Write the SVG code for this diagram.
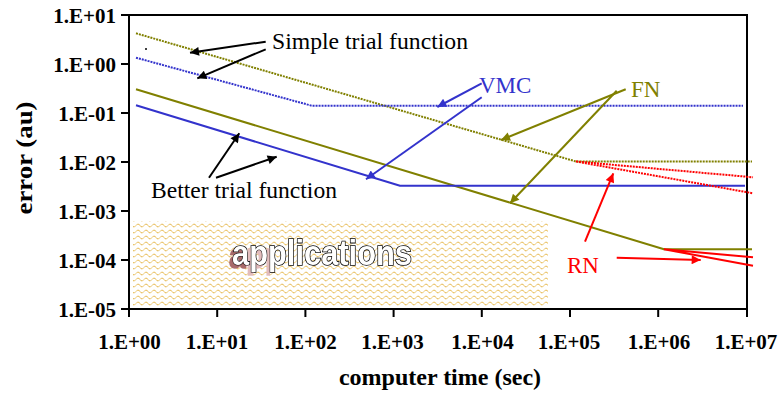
<svg xmlns="http://www.w3.org/2000/svg" width="782" height="395" viewBox="0 0 782 395">
  <style>
    .serif { font-family: "Liberation Serif", "Times New Roman", serif; }
    .tick { font-family: "Liberation Serif", "Times New Roman", serif; font-weight: bold; font-size: 21px; }
    .ylab { text-anchor: end; }
    .xlab { text-anchor: middle; }
    .frame { fill: none; stroke: #000; stroke-width: 2; }
    .data { fill: none; stroke-width: 2; stroke-linejoin: round; }
    .dotted { stroke-dasharray: 2 1; }
    .olive { stroke: #808000; }
    .blue { stroke: #3333cc; }
    .red { stroke: #ff0000; }
    .arrow { fill: none; stroke-width: 2; }
  </style>
  <defs>
    <marker id="ahBlack" viewBox="0 0 10 10" refX="10" refY="5" markerWidth="12" markerHeight="9" markerUnits="userSpaceOnUse" orient="auto">
      <path d="M0,0 L10,5 L0,10 z" fill="#000"/>
    </marker>
    <marker id="ahBlue" viewBox="0 0 10 10" refX="10" refY="5" markerWidth="12" markerHeight="9" markerUnits="userSpaceOnUse" orient="auto">
      <path d="M0,0 L10,5 L0,10 z" fill="#3333cc"/>
    </marker>
    <marker id="ahOlive" viewBox="0 0 10 10" refX="10" refY="5" markerWidth="12" markerHeight="9" markerUnits="userSpaceOnUse" orient="auto">
      <path d="M0,0 L10,5 L0,10 z" fill="#808000"/>
    </marker>
    <marker id="ahRed" viewBox="0 0 10 10" refX="10" refY="5" markerWidth="12" markerHeight="9" markerUnits="userSpaceOnUse" orient="auto">
      <path d="M0,0 L10,5 L0,10 z" fill="#ff0000"/>
    </marker>
    <pattern id="wave" width="8" height="6" patternUnits="userSpaceOnUse">
      <rect width="8" height="6" fill="#fff"/>
      <path d="M0,3.5 Q2,0.8 4,3.5 T8,3.5" fill="none" stroke="#e2aa28" stroke-width="1" stroke-dasharray="2 0.6"/>
    </pattern>
    <!-- soft brownish shadow, only behind the first letters -->
    <filter id="appShadow" filterUnits="userSpaceOnUse" primitiveUnits="userSpaceOnUse" x="200" y="225" width="240" height="55">
      <feFlood flood-color="#a86a6a" x="222" y="225" width="24" height="55" result="f1"/>
      <feFlood flood-color="#e2bcbc" x="246" y="225" width="24" height="55" result="f2"/>
      <feMerge result="tint">
        <feMergeNode in="f1"/>
        <feMergeNode in="f2"/>
      </feMerge>
      <feOffset in="SourceAlpha" dx="-3" dy="3" result="off"/>
      <feComposite in="tint" in2="off" operator="in" result="shadow"/>
      <feMerge>
        <feMergeNode in="shadow"/>
        <feMergeNode in="SourceGraphic"/>
      </feMerge>
    </filter>
  </defs>

  <rect width="782" height="395" fill="#fff"/>

  <!-- applications band -->
  <g id="applications">
    <rect x="133" y="221" width="415" height="86" fill="url(#wave)"/>
    <text x="232" y="265" font-family="'Liberation Sans', Arial, sans-serif" font-weight="bold" font-size="35" textLength="180" lengthAdjust="spacingAndGlyphs" fill="#fff" stroke="#000" stroke-width="1.6" paint-order="stroke" filter="url(#appShadow)">applications</text>
  </g>

  <!-- plot frame and ticks -->
  <g id="axes">
    <rect class="frame" x="129" y="15" width="618" height="294"/>
    <path class="frame" d="M121,15 H129 M121,64 H129 M121,113 H129 M121,162 H129 M121,211 H129 M121,260 H129 M121,309 H129
      M129,309 V317 M217.2,309 V317 M305.4,309 V317 M393.6,309 V317 M481.8,309 V317 M570,309 V317 M658.2,309 V317 M747,309 V317"/>
    <g class="tick ylab">
      <text x="116" y="23">1.E+01</text>
      <text x="116" y="72">1.E+00</text>
      <text x="116" y="121">1.E-01</text>
      <text x="116" y="170">1.E-02</text>
      <text x="116" y="219">1.E-03</text>
      <text x="116" y="268">1.E-04</text>
      <text x="116" y="317">1.E-05</text>
    </g>
    <g class="tick xlab">
      <text x="129.5" y="349">1.E+00</text>
      <text x="217" y="349">1.E+01</text>
      <text x="305.5" y="349">1.E+02</text>
      <text x="392.5" y="349">1.E+03</text>
      <text x="482.5" y="349">1.E+04</text>
      <text x="569" y="349">1.E+05</text>
      <text x="659" y="349">1.E+06</text>
      <text x="746" y="349">1.E+07</text>
    </g>
    <text x="440" y="385" text-anchor="middle" font-family="'Liberation Serif', 'Times New Roman', serif" font-weight="bold" font-size="24">computer time (sec)</text>
    <text transform="translate(32,158) rotate(-90)" text-anchor="middle" font-family="'Liberation Serif', 'Times New Roman', serif" font-weight="bold" font-size="23" textLength="113" lengthAdjust="spacingAndGlyphs">error (au)</text>
  </g>

  <!-- data curves -->
  <g id="curves">
    <polyline id="fn-simple" class="data olive dotted" points="136,33.3 576,161.5 752,161.5"/>
    <polyline id="vmc-simple" class="data blue dotted" points="136,57.7 311.7,105.7 743,105.7"/>
    <polyline id="fn-better" class="data olive" points="136,89.3 664,249.3 752,249.3"/>
    <polyline id="vmc-better" class="data blue" points="136,105.3 400,185.7 745,185.7"/>
    <path id="rn-simple" class="data red dotted" d="M576,161.5 L753,177.3 M576,161.5 L753,193.3"/>
    <path id="rn-better" class="data red" d="M664,249.3 L753,257.3 M664,249.3 L753,265.7"/>
    <circle cx="146" cy="49" r="1" fill="#000"/>
  </g>

  <!-- labels -->
  <g id="label-simple">
    <text x="272" y="49" font-family="'Liberation Serif', 'Times New Roman', serif" font-size="24" textLength="196" lengthAdjust="spacingAndGlyphs">Simple trial function</text>
  </g>
  <g id="label-better">
    <text x="151" y="198" font-family="'Liberation Serif', 'Times New Roman', serif" font-size="24" textLength="186" lengthAdjust="spacingAndGlyphs">Better trial function</text>
  </g>
  <g id="label-vmc">
    <text x="479" y="92.7" font-family="'Liberation Serif', 'Times New Roman', serif" font-size="23" fill="#3333cc">VMC</text>
  </g>
  <g id="label-fn">
    <text x="631" y="97" font-family="'Liberation Serif', 'Times New Roman', serif" font-size="23" fill="#808000">FN</text>
  </g>
  <g id="label-rn">
    <text x="567" y="273" font-family="'Liberation Serif', 'Times New Roman', serif" font-size="23" fill="#ff0000">RN</text>
  </g>

  <!-- pointer connectors -->
  <g id="connectors">
    <line class="arrow" stroke="#000" x1="265.7" y1="41.7" x2="190" y2="52.7" marker-end="url(#ahBlack)"/>
    <line class="arrow" stroke="#000" x1="265.7" y1="49.3" x2="197.3" y2="78.3" marker-end="url(#ahBlack)"/>
    <line class="arrow" stroke="#000" x1="209" y1="177.7" x2="239.3" y2="133.3" marker-end="url(#ahBlack)"/>
    <line class="arrow" stroke="#000" x1="216" y1="177.7" x2="276.7" y2="156.7" marker-end="url(#ahBlack)"/>
    <line class="arrow" stroke="#3333cc" x1="481.7" y1="83.3" x2="437.3" y2="107" marker-end="url(#ahBlue)"/>
    <line class="arrow" stroke="#3333cc" x1="481.7" y1="97.3" x2="366" y2="179.3" marker-end="url(#ahBlue)"/>
    <line class="arrow" stroke="#808000" x1="625.7" y1="89.3" x2="501" y2="140" marker-end="url(#ahOlive)"/>
    <line class="arrow" stroke="#808000" x1="616.7" y1="90.7" x2="510" y2="203.3" marker-end="url(#ahOlive)"/>
    <line class="arrow" stroke="#ff0000" x1="585" y1="241.7" x2="613.3" y2="173.3" marker-end="url(#ahRed)"/>
    <line class="arrow" stroke="#ff0000" x1="616.7" y1="257.7" x2="700.7" y2="260" marker-end="url(#ahRed)"/>
  </g>
</svg>
